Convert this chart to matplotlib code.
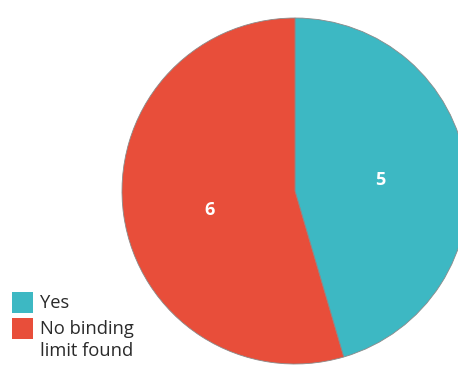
import matplotlib
matplotlib.use("Agg")
import matplotlib.pyplot as plt
from matplotlib.patches import Rectangle

categories = ["Yes", "No binding\nlimit found"]
values = [5, 6]
colors = ["#3DB8C3", "#E84E3A"]

W, H = 458, 365
fig = plt.figure(figsize=(W/100, H/100), dpi=100)
cx, cy, r = 295, 191, 173
ax = fig.add_axes([(cx - r)/W, (H - cy - r)/H, 2*r/W, 2*r/H])
wedges, texts = ax.pie(values, colors=colors, startangle=90, counterclock=False,
                       labels=[str(v) for v in values], labeldistance=0.5,
                       wedgeprops=dict(edgecolor="#8a8a8a", linewidth=0.6),
                       textprops=dict(color="white", fontsize=13, fontweight="bold",
                                      family="Open Sans"))
offsets = [(0.0, -0.01), (0.0, -0.04)]
for t, (dx, dy) in zip(texts, offsets):
    t.set_ha("center"); t.set_va("center")
    x, y = t.get_position()
    t.set_position((x + dx, y + dy))
ax.set_xlim(-1.0, 1.0)
ax.set_ylim(-1.0, 1.0)
ax.set_aspect("equal")
ax.axis("off")
for w in wedges:
    w.set_clip_on(False)

# legend drawn in pixel-based figure coordinates
tops = [292, 318]
for lab, c, y0 in zip(categories, colors, tops):
    fig.patches.append(Rectangle((12/W, 1 - (y0 + 21)/H), 21/W, 21/H,
                                 transform=fig.transFigure, facecolor=c,
                                 edgecolor="none"))
    fig.text(40/W, 1 - (y0 + 2)/H, lab, ha="left", va="top",
             fontsize=13.2, family="Open Sans", color="#2a2a2a", linespacing=1.32,
             transform=fig.transFigure)
fig.savefig("out.png", dpi=100)
